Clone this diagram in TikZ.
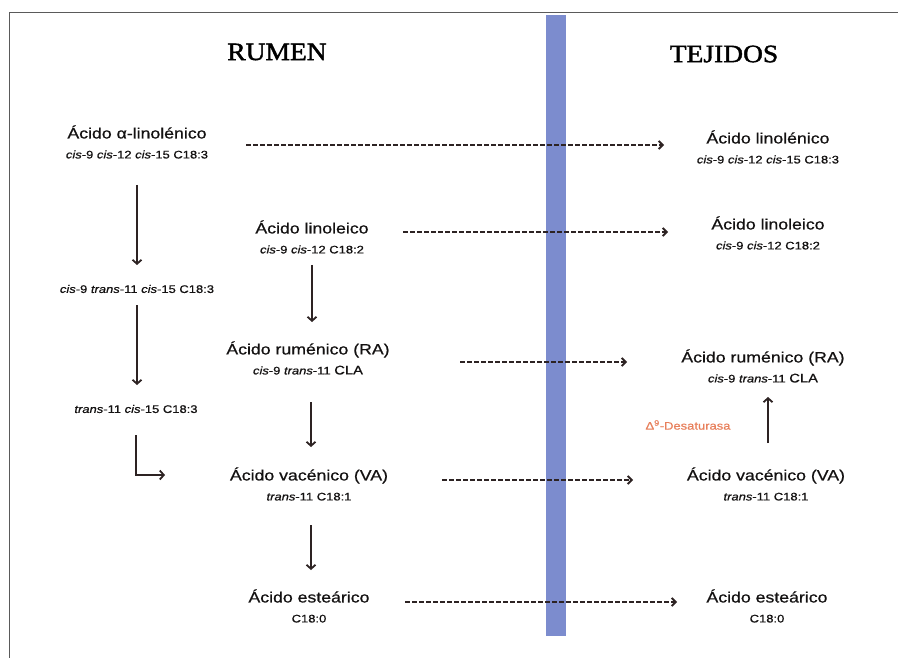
\documentclass[tikz,border=0pt]{standalone}
\usepackage{fontspec}
\setmainfont{Liberation Sans}[FakeStretch=1.18,FakeBold=0.7]
\newfontfamily\titlef{Liberation Serif}[FakeStretch=1.1,FakeBold=1.6]
\usetikzlibrary{arrows.meta,calc}
\definecolor{barblue}{RGB}{124,140,206}
\definecolor{arrcol}{RGB}{45,35,35}
\definecolor{txtcol}{RGB}{20,18,18}
\definecolor{enzcol}{RGB}{232,128,92}
\definecolor{framecol}{RGB}{90,90,90}
\newcommand\subf{\fontsize{11}{20}\selectfont}
\tikzset{
  cmpd/.style={align=center, inner sep=0pt, text=txtcol, font=\fontsize{15}{20}\selectfont},
  single/.style={inner sep=0pt, text=txtcol, font=\fontsize{11}{13}\selectfont},
  heading/.style={inner sep=0pt, text=black, font=\titlef\fontsize{25}{28}\selectfont},
  solidarr/.style={draw=arrcol, line width=1.8pt, -{Straight Barb[length=4pt,width=9pt,line width=1.8pt]}},
  dasharr/.style={draw=arrcol, line width=1.9pt, dash pattern=on 4.5pt off 2.5pt, -{Straight Barb[length=4pt,width=8pt,line width=1.9pt]}},
}
\begin{document}
\begin{tikzpicture}[x=1pt,y=-1pt]
\useasboundingbox (0,0) rectangle (898,658);
\fill[white] (0,0) rectangle (898,658);
% frame
\draw[framecol, line width=1pt] (9,658) -- (9,13) -- (898,13);
% membrane bar
\fill[barblue] (546,15) rectangle (566,636);
% headings
\node[heading] (rumen) at (277,52) {RUMEN};
\node[heading] (tejidos) at (724,54) {TEJIDOS};
% left column (rumen)
\node[cmpd] (L1) at (137,142) {Ácido α-linolénico\\{\subf\textit{cis}-9 \textit{cis}-12 \textit{cis}-15 C18:3}};
\node[single] (M1) at (137,289) {\textit{cis}-9 \textit{trans}-11 \textit{cis}-15 C18:3};
\node[single] (M2) at (136,409) {\textit{trans}-11 \textit{cis}-15 C18:3};
\node[cmpd] (L2) at (312,237) {Ácido linoleico\\{\subf\textit{cis}-9 \textit{cis}-12 C18:2}};
\node[cmpd] (L3) at (308,358) {Ácido ruménico (RA)\\{\subf\textit{cis}-9 \textit{trans}-11 {\fontsize{12.5}{20}\selectfont CLA}}};
\node[cmpd] (L4) at (309,484) {Ácido vacénico (VA)\\{\subf\textit{trans}-11 C18:1}};
\node[cmpd] (L5) at (309,606) {Ácido esteárico\\{\subf C18:0}};
% right column (tejidos)
\node[cmpd] (R1) at (768,147) {Ácido linolénico\\{\subf\textit{cis}-9 \textit{cis}-12 \textit{cis}-15 C18:3}};
\node[cmpd] (R2) at (768,233) {Ácido linoleico\\{\subf\textit{cis}-9 \textit{cis}-12 C18:2}};
\node[cmpd] (R3) at (763,366) {Ácido ruménico (RA)\\{\subf\textit{cis}-9 \textit{trans}-11 {\fontsize{12.5}{20}\selectfont CLA}}};
\node[cmpd] (R4) at (766,484) {Ácido vacénico (VA)\\{\subf\textit{trans}-11 C18:1}};
\node[cmpd] (R5) at (767,606) {Ácido esteárico\\{\subf C18:0}};
\node[inner sep=0pt, text=enzcol, font=\fontsize{11}{13}\selectfont] (enz) at (688,425) {Δ\textsuperscript{9}-Desaturasa};
% solid arrows (rumen biohydrogenation)
\draw[solidarr, shorten <=43pt, shorten >=24pt] (L1.center) -- (L1.center |- M1.center);
\draw[solidarr, shorten <=16pt, shorten >=24pt] (M1.center) -- (M1.center |- M2.center);
\draw[solidarr] ([yshift=-26pt]M2.center) |- ($(L4.center)+(-144,-9)$);
\draw[solidarr, shorten <=28pt, shorten >=36pt] (L2.center) -- (L2.center |- L3.center);
\draw[solidarr, shorten <=44pt, shorten >=37pt] ([xshift=3pt]L3.center) -- ([xshift=3pt]L3.center |- L4.center);
\draw[solidarr, shorten <=41pt, shorten >=36pt] ([xshift=2pt]L4.center) -- ([xshift=2pt]L4.center |- L5.center);
\draw[solidarr, shorten <=41pt, shorten >=31pt] ([xshift=2pt]R4.center) -- ([xshift=2pt]R4.center |- R3.center);
% dashed transfer arrows
\draw[dasharr, shorten <=109pt, shorten >=104pt] ([yshift=-3pt]L1.center) -- ([yshift=-3pt]L1.center -| R1.center);
\draw[dasharr, shorten <=91pt, shorten >=100pt] ([yshift=5pt]L2.center) -- ([yshift=5pt]L2.center -| R2.center);
\draw[dasharr, shorten <=152pt, shorten >=136pt] ([yshift=-4pt]L3.center) -- ([yshift=-4pt]L3.center -| R3.center);
\draw[dasharr, shorten <=133pt, shorten >=133pt] ([yshift=4pt]L4.center) -- ([yshift=4pt]L4.center -| R4.center);
\draw[dasharr, shorten <=96pt, shorten >=90pt] ([yshift=4pt]L5.center) -- ([yshift=4pt]L5.center -| R5.center);
\end{tikzpicture}
\end{document}
